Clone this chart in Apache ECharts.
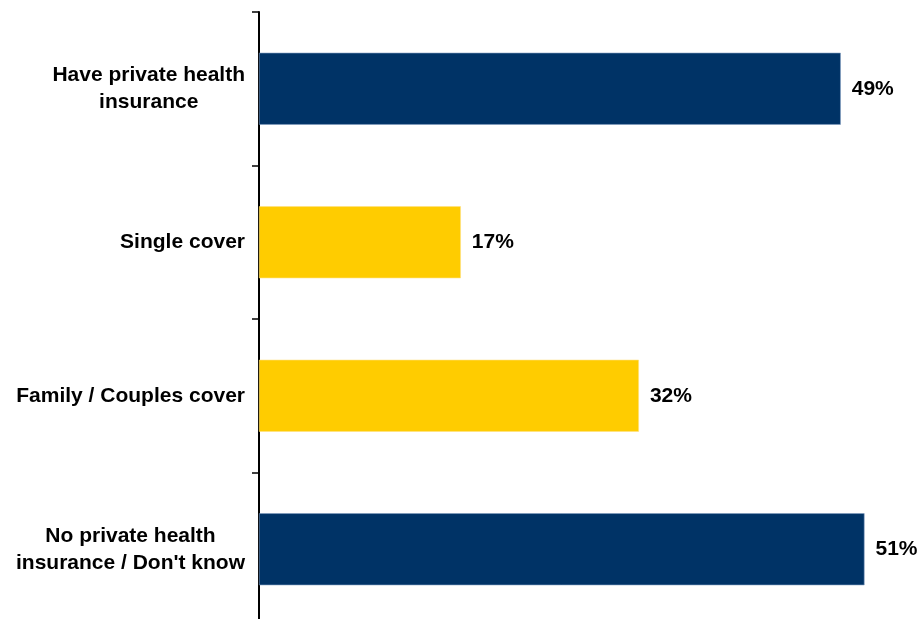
<!DOCTYPE html>
<html>
<head>
<meta charset="utf-8">
<script src="https://cdn.jsdelivr.net/npm/echarts@6/dist/echarts.min.js"></script>
<style>html,body{margin:0;padding:0;background:#fff}#c{width:923px;height:619px}</style>
</head>
<body>
<div id="c"></div>
<script>
var categories = [["Have private health", "insurance"], ["Single cover"], ["Family / Couples cover"], ["No private health", "insurance / Don't know"]];
var values = [49, 17, 32, 51];
var colors = ["#003366", "#FFCC00", "#FFCC00", "#003366"];

var chart = echarts.init(document.getElementById('c'));
var catNames = categories.map(function (c) { return c.join('\n'); });
chart.setOption({
  animation: false,
  grid: { left: 259, width: 653, top: 12, height: 614, outerBoundsMode: 'none', containLabel: false },
  xAxis: { type: 'value', min: 0, max: 55, show: false },
  yAxis: {
    type: 'category', inverse: true, data: catNames,
    axisLine: { show: true, lineStyle: { color: '#000', width: 2 } },
    axisTick: { show: true, length: 7, lineStyle: { color: '#000', width: 1.5 } },
    axisLabel: {
      margin: 14, align: 'right',
      formatter: function (v) {
        return v.split('\n').map(function (s) { return '{a|' + s + '}'; }).join('\n');
      },
      rich: { a: { align: 'center', fontFamily: 'Liberation Sans, Arial', fontWeight: 'bold', fontSize: 21, color: '#000', lineHeight: 27 } }
    }
  },
  series: [{
    type: 'bar', barWidth: 72,
    data: values.map(function (v, i) {
      return { value: v, itemStyle: { color: colors[i], borderColor: colors[i] === '#003366' ? '#7f9cc0' : '#ffe080', borderWidth: 0.6 } };
    }),
    label: {
      show: true, position: 'right', distance: 11,
      formatter: '{c}%', fontFamily: 'Liberation Sans, Arial', fontWeight: 'bold', fontSize: 21, color: '#000'
    }
  }]
});
</script>
</body>
</html>
